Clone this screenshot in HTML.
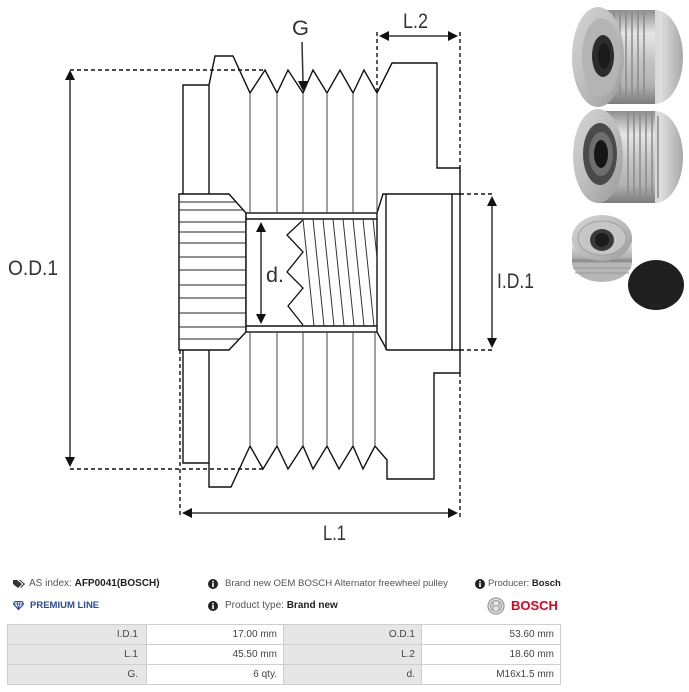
<!DOCTYPE html>
<html>
<head>
<meta charset="utf-8">
<style>
  html,body{margin:0;padding:0;background:#fff;}
  body{width:689px;height:692px;position:relative;overflow:hidden;font-family:"Liberation Sans",Arial,sans-serif;}
  .t{position:absolute;font-size:10px;color:#555;white-space:nowrap;line-height:12px;}
  .t b{color:#222;}
  table{position:absolute;left:7px;top:624px;border-collapse:collapse;font-size:10px;color:#444;width:553px;table-layout:fixed;}
  td{border:1px solid #cfcfcf;height:19px;padding:0 6px 0 0;text-align:right;line-height:12px;overflow:hidden;white-space:nowrap;}
  td.l{background:#e6e6e6;}
  td.v{background:#fff;}
</style>
</head>
<body>
<svg width="689" height="560" viewBox="0 0 689 560" style="position:absolute;left:0;top:0" xmlns="http://www.w3.org/2000/svg">
  <defs>
    <linearGradient id="met" x1="0" y1="0" x2="0" y2="1">
      <stop offset="0" stop-color="#8e8e8e"/>
      <stop offset="0.25" stop-color="#e6e6e6"/>
      <stop offset="0.55" stop-color="#c4c4c4"/>
      <stop offset="0.8" stop-color="#b2b2b2"/>
      <stop offset="1" stop-color="#7c7c7c"/>
    </linearGradient>
    <linearGradient id="face" x1="0" y1="0" x2="1" y2="1">
      <stop offset="0" stop-color="#d6d6d6"/>
      <stop offset="0.5" stop-color="#bdbdbd"/>
      <stop offset="1" stop-color="#9a9a9a"/>
    </linearGradient>
    <linearGradient id="back" x1="0" y1="0" x2="1" y2="0">
      <stop offset="0" stop-color="#b8b8b8"/>
      <stop offset="0.6" stop-color="#dedede"/>
      <stop offset="1" stop-color="#a8a8a8"/>
    </linearGradient>
    <clipPath id="bore"><rect x="303" y="219" width="74" height="107"/></clipPath>
  </defs>

  <!-- ===== Drawing outline ===== -->
  <g fill="none" stroke="#111" stroke-width="1.4" stroke-linejoin="miter">
    <polyline points="183,194 183,85 209,85 215,56 233,56 250,93 265,70 277,93 288,70 303,93 313,70 327,93 340,70 353,93 364,70 377,93 392,63 437,63 437,168 460,168 460,194"/>
    <line x1="209" y1="85" x2="209" y2="194"/>
    <polyline points="183,350 183,463 209,463"/>
    <polyline points="209,350 209,487 231,487 250,446 263,469 277,446 288,469 303,446 313,469 327,446 339,469 353,446 363,469 375,446 387,460 387,479 434,479 434,373 460,373 460,350"/>
    <polygon points="179,194 229,194 246,213 246,332 229,350 179,350" fill="#fff"/>
    <rect x="246" y="213" width="131" height="119" fill="#fff"/>
    <line x1="246" y1="219" x2="377" y2="219"/>
    <line x1="246" y1="326" x2="377" y2="326"/>
    <polyline points="377,213 383,194 460,194 460,350 387,350 377,332"/>
    <line x1="386" y1="194" x2="386" y2="350"/>
    <line x1="452" y1="194" x2="452" y2="350"/>
  </g>

  <g stroke="#222" stroke-width="1">
    <line x1="179" y1="202" x2="236" y2="202"/>
    <line x1="179" y1="210" x2="243" y2="210"/>
    <line x1="179" y1="222" x2="246" y2="222"/>
    <line x1="179" y1="232" x2="246" y2="232"/>
    <line x1="179" y1="243" x2="246" y2="243"/>
    <line x1="179" y1="257" x2="246" y2="257"/>
    <line x1="179" y1="270" x2="246" y2="270"/>
    <line x1="179" y1="285" x2="246" y2="285"/>
    <line x1="179" y1="298" x2="246" y2="298"/>
    <line x1="179" y1="313" x2="246" y2="313"/>
    <line x1="179" y1="327" x2="246" y2="327"/>
    <line x1="179" y1="339" x2="239" y2="339"/>
  </g>

  <g stroke="#444" stroke-width="1">
    <line x1="250" y1="93" x2="250" y2="213"/>
    <line x1="277" y1="93" x2="277" y2="213"/>
    <line x1="303" y1="93" x2="303" y2="213"/>
    <line x1="327" y1="93" x2="327" y2="213"/>
    <line x1="353" y1="93" x2="353" y2="213"/>
    <line x1="377" y1="93" x2="377" y2="213"/>
    <line x1="250" y1="332" x2="250" y2="446"/>
    <line x1="277" y1="332" x2="277" y2="446"/>
    <line x1="303" y1="332" x2="303" y2="446"/>
    <line x1="327" y1="332" x2="327" y2="446"/>
    <line x1="353" y1="332" x2="353" y2="446"/>
    <line x1="375" y1="332" x2="375" y2="446"/>
  </g>

  <polyline points="303,220 287,235 303,252 287,272 303,288 288,306 303,325" fill="none" stroke="#111" stroke-width="1.3"/>
  <g stroke="#333" stroke-width="1" clip-path="url(#bore)">
    <line x1="303" y1="219" x2="314" y2="326"/>
    <line x1="313" y1="219" x2="324" y2="326"/>
    <line x1="323" y1="219" x2="334" y2="326"/>
    <line x1="333" y1="219" x2="344" y2="326"/>
    <line x1="343" y1="219" x2="354" y2="326"/>
    <line x1="353" y1="219" x2="364" y2="326"/>
    <line x1="363" y1="219" x2="374" y2="326"/>
    <line x1="373" y1="219" x2="384" y2="326"/>
  </g>

  <g stroke="#111" stroke-width="1.4" stroke-dasharray="4,3" fill="none">
    <line x1="70" y1="70" x2="265" y2="70"/>
    <line x1="70" y1="469" x2="263" y2="469"/>
    <line x1="377" y1="32" x2="377" y2="93"/>
    <line x1="460" y1="32" x2="460" y2="168"/>
    <line x1="460" y1="194" x2="494" y2="194"/>
    <line x1="460" y1="350" x2="494" y2="350"/>
    <line x1="180" y1="350" x2="180" y2="518"/>
    <line x1="460" y1="373" x2="460" y2="518"/>
  </g>

  <g stroke="#333" stroke-width="1.5">
    <line x1="70" y1="78" x2="70" y2="459"/>
    <line x1="387" y1="36" x2="450" y2="36"/>
    <line x1="492" y1="202" x2="492" y2="342"/>
    <line x1="188" y1="513" x2="452" y2="513"/>
    <line x1="261" y1="230" x2="261" y2="316"/>
    <line x1="302" y1="42" x2="303" y2="82"/>
  </g>
  <g fill="#111">
    <polygon points="70,70 65,80 75,80"/>
    <polygon points="70,467 65,457 75,457"/>
    <polygon points="379,36 389,31 389,41"/>
    <polygon points="458,36 448,31 448,41"/>
    <polygon points="492,196 487,206 497,206"/>
    <polygon points="492,348 487,338 497,338"/>
    <polygon points="182,513 192,508 192,518"/>
    <polygon points="458,513 448,508 448,518"/>
    <polygon points="261,222 256,232 266,232"/>
    <polygon points="261,324 256,314 266,314"/>
    <polygon points="303,91 298,81 308,81"/>
  </g>

  <g font-family="Liberation Sans, Arial, sans-serif" font-size="21" fill="#333">
    <text x="292" y="35" textLength="17" lengthAdjust="spacingAndGlyphs">G</text>
    <text x="403" y="28" textLength="25" lengthAdjust="spacingAndGlyphs">L.2</text>
    <text x="8" y="275" textLength="50" lengthAdjust="spacingAndGlyphs">O.D.1</text>
    <text x="497" y="288" textLength="37" lengthAdjust="spacingAndGlyphs">I.D.1</text>
    <text x="266" y="282" textLength="18" lengthAdjust="spacingAndGlyphs">d.</text>
    <text x="323" y="540" textLength="23" lengthAdjust="spacingAndGlyphs">L.1</text>
  </g>

  <!-- ===== Photos ===== -->
  <g>
    <ellipse cx="655" cy="57" rx="28" ry="47" fill="url(#back)"/>
    <rect x="598" y="10" width="57" height="94" fill="url(#met)"/>
    <g stroke="#8a8a8a" stroke-width="1.5">
      <line x1="614" y1="12" x2="614" y2="102"/>
      <line x1="620" y1="12" x2="620" y2="102"/>
      <line x1="626" y1="12" x2="626" y2="102"/>
      <line x1="632" y1="12" x2="632" y2="102"/>
      <line x1="638" y1="12" x2="638" y2="102"/>
      <line x1="644" y1="13" x2="644" y2="101"/>
    </g>
    <ellipse cx="598" cy="57" rx="26" ry="50" fill="url(#face)"/>
    <ellipse cx="601" cy="57" rx="19" ry="39" fill="#b4b4b4"/>
    <ellipse cx="603" cy="56" rx="11" ry="21" fill="#2c2c2c"/>
    <ellipse cx="604" cy="56" rx="6" ry="13" fill="#1a1a1a"/>
  </g>
  <g>
    <ellipse cx="655" cy="157" rx="28" ry="46" fill="url(#back)"/>
    <rect x="597" y="111" width="58" height="92" fill="url(#met)"/>
    <g stroke="#8a8a8a" stroke-width="1.5">
      <line x1="628" y1="113" x2="628" y2="201"/>
      <line x1="634" y1="113" x2="634" y2="201"/>
      <line x1="640" y1="113" x2="640" y2="201"/>
      <line x1="646" y1="113" x2="646" y2="201"/>
      <line x1="652" y1="114" x2="652" y2="200"/>
      <line x1="658" y1="116" x2="658" y2="198"/>
    </g>
    <ellipse cx="598" cy="156" rx="25" ry="47" fill="url(#face)"/>
    <ellipse cx="600" cy="154" rx="17" ry="31" fill="#4a4a4a"/>
    <ellipse cx="601" cy="154" rx="12" ry="22" fill="#6e6e6e"/>
    <ellipse cx="601" cy="154" rx="7" ry="14" fill="#161616"/>
  </g>
  <g>
    <ellipse cx="602" cy="262" rx="30" ry="20" fill="#b6b6b6"/>
    <rect x="572" y="238" width="60" height="24" fill="url(#met)"/>
    <g stroke="#9a9a9a" stroke-width="1">
      <line x1="572" y1="262" x2="632" y2="262"/>
      <line x1="573" y1="268" x2="631" y2="268"/>
      <line x1="575" y1="273" x2="629" y2="273"/>
    </g>
    <ellipse cx="602" cy="238" rx="30" ry="23" fill="url(#face)"/>
    <ellipse cx="602" cy="238" rx="24" ry="17" fill="#c6c6c6" stroke="#a0a0a0" stroke-width="1"/>
    <ellipse cx="602" cy="240" rx="12" ry="11" fill="#3a3a3a"/>
    <ellipse cx="602" cy="240" rx="7" ry="7" fill="#1c1c1c"/>
    <ellipse cx="656" cy="285" rx="28" ry="25" fill="#1f1f1f"/>
  </g>
</svg>

<!-- ===== Info section ===== -->
<svg width="12" height="10" style="position:absolute;left:13px;top:579px" viewBox="0 0 12 10">
  <path d="M0,1 L4,1 L9,5 L5,9 L0,5 Z" fill="#333"/>
  <path d="M6,1 L7.5,1 L12,5 L8,9 L7.2,8.3 L10.5,5 Z" fill="#333"/>
</svg>
<div class="t" style="left:29px;top:578px;">AS index: <b>AFP0041(BOSCH)</b></div>

<svg width="11" height="9" style="position:absolute;left:13px;top:601px" viewBox="0 0 11 9">
  <path d="M2,0.5 L9,0.5 L10.5,3 L5.5,8.5 L0.5,3 Z" fill="none" stroke="#2b4aa0" stroke-width="1.2"/>
  <path d="M0.5,3 L10.5,3 M4,0.5 L5.5,8.5 L7,0.5" fill="none" stroke="#2b4aa0" stroke-width="0.8"/>
</svg>
<div class="t" style="left:30px;top:600px;font-size:9.5px;font-weight:bold;color:#2b4aa0;">PREMIUM LINE</div>

<svg width="10" height="10" style="position:absolute;left:208px;top:579px" viewBox="0 0 10 10">
  <circle cx="5" cy="5" r="5" fill="#222"/><rect x="4.2" y="4" width="1.6" height="4" fill="#fff"/><circle cx="5" cy="2.6" r="0.9" fill="#fff"/>
</svg>
<div class="t" style="left:225px;top:578px;font-size:9.6px;">Brand new OEM BOSCH Alternator freewheel pulley</div>

<svg width="10" height="10" style="position:absolute;left:208px;top:601px" viewBox="0 0 10 10">
  <circle cx="5" cy="5" r="5" fill="#222"/><rect x="4.2" y="4" width="1.6" height="4" fill="#fff"/><circle cx="5" cy="2.6" r="0.9" fill="#fff"/>
</svg>
<div class="t" style="left:225px;top:600px;">Product type: <b>Brand new</b></div>

<svg width="10" height="10" style="position:absolute;left:475px;top:579px" viewBox="0 0 10 10">
  <circle cx="5" cy="5" r="5" fill="#222"/><rect x="4.2" y="4" width="1.6" height="4" fill="#fff"/><circle cx="5" cy="2.6" r="0.9" fill="#fff"/>
</svg>
<div class="t" style="left:488px;top:578px;font-size:9.5px;">Producer: <b>Bosch</b></div>

<svg width="18" height="18" style="position:absolute;left:487px;top:597px" viewBox="0 0 18 18">
  <circle cx="9" cy="9" r="8" fill="#e4e4e4" stroke="#9a9a9a" stroke-width="1.3"/>
  <circle cx="9" cy="9" r="5.5" fill="none" stroke="#9a9a9a" stroke-width="1"/>
  <line x1="6" y1="4.5" x2="6" y2="13.5" stroke="#9a9a9a" stroke-width="1"/>
  <line x1="12" y1="4.5" x2="12" y2="13.5" stroke="#9a9a9a" stroke-width="1"/>
  <line x1="6" y1="9" x2="12" y2="9" stroke="#9a9a9a" stroke-width="1"/>
</svg>
<div class="t" style="left:511px;top:598px;font-size:13px;line-height:16px;font-weight:bold;color:#e2001a;">BOSCH</div>

<table>
  <colgroup><col style="width:139px"><col style="width:137px"><col style="width:138px"><col style="width:139px"></colgroup>
  <tr><td class="l" style="padding-right:8px">I.D.1</td><td class="v">17.00 mm</td><td class="l">O.D.1</td><td class="v">53.60 mm</td></tr>
  <tr><td class="l" style="padding-right:8px">L.1</td><td class="v">45.50 mm</td><td class="l">L.2</td><td class="v">18.60 mm</td></tr>
  <tr><td class="l" style="padding-right:8px">G.</td><td class="v">6 qty.</td><td class="l">d.</td><td class="v">M16x1.5 mm</td></tr>
</table>
</body>
</html>
